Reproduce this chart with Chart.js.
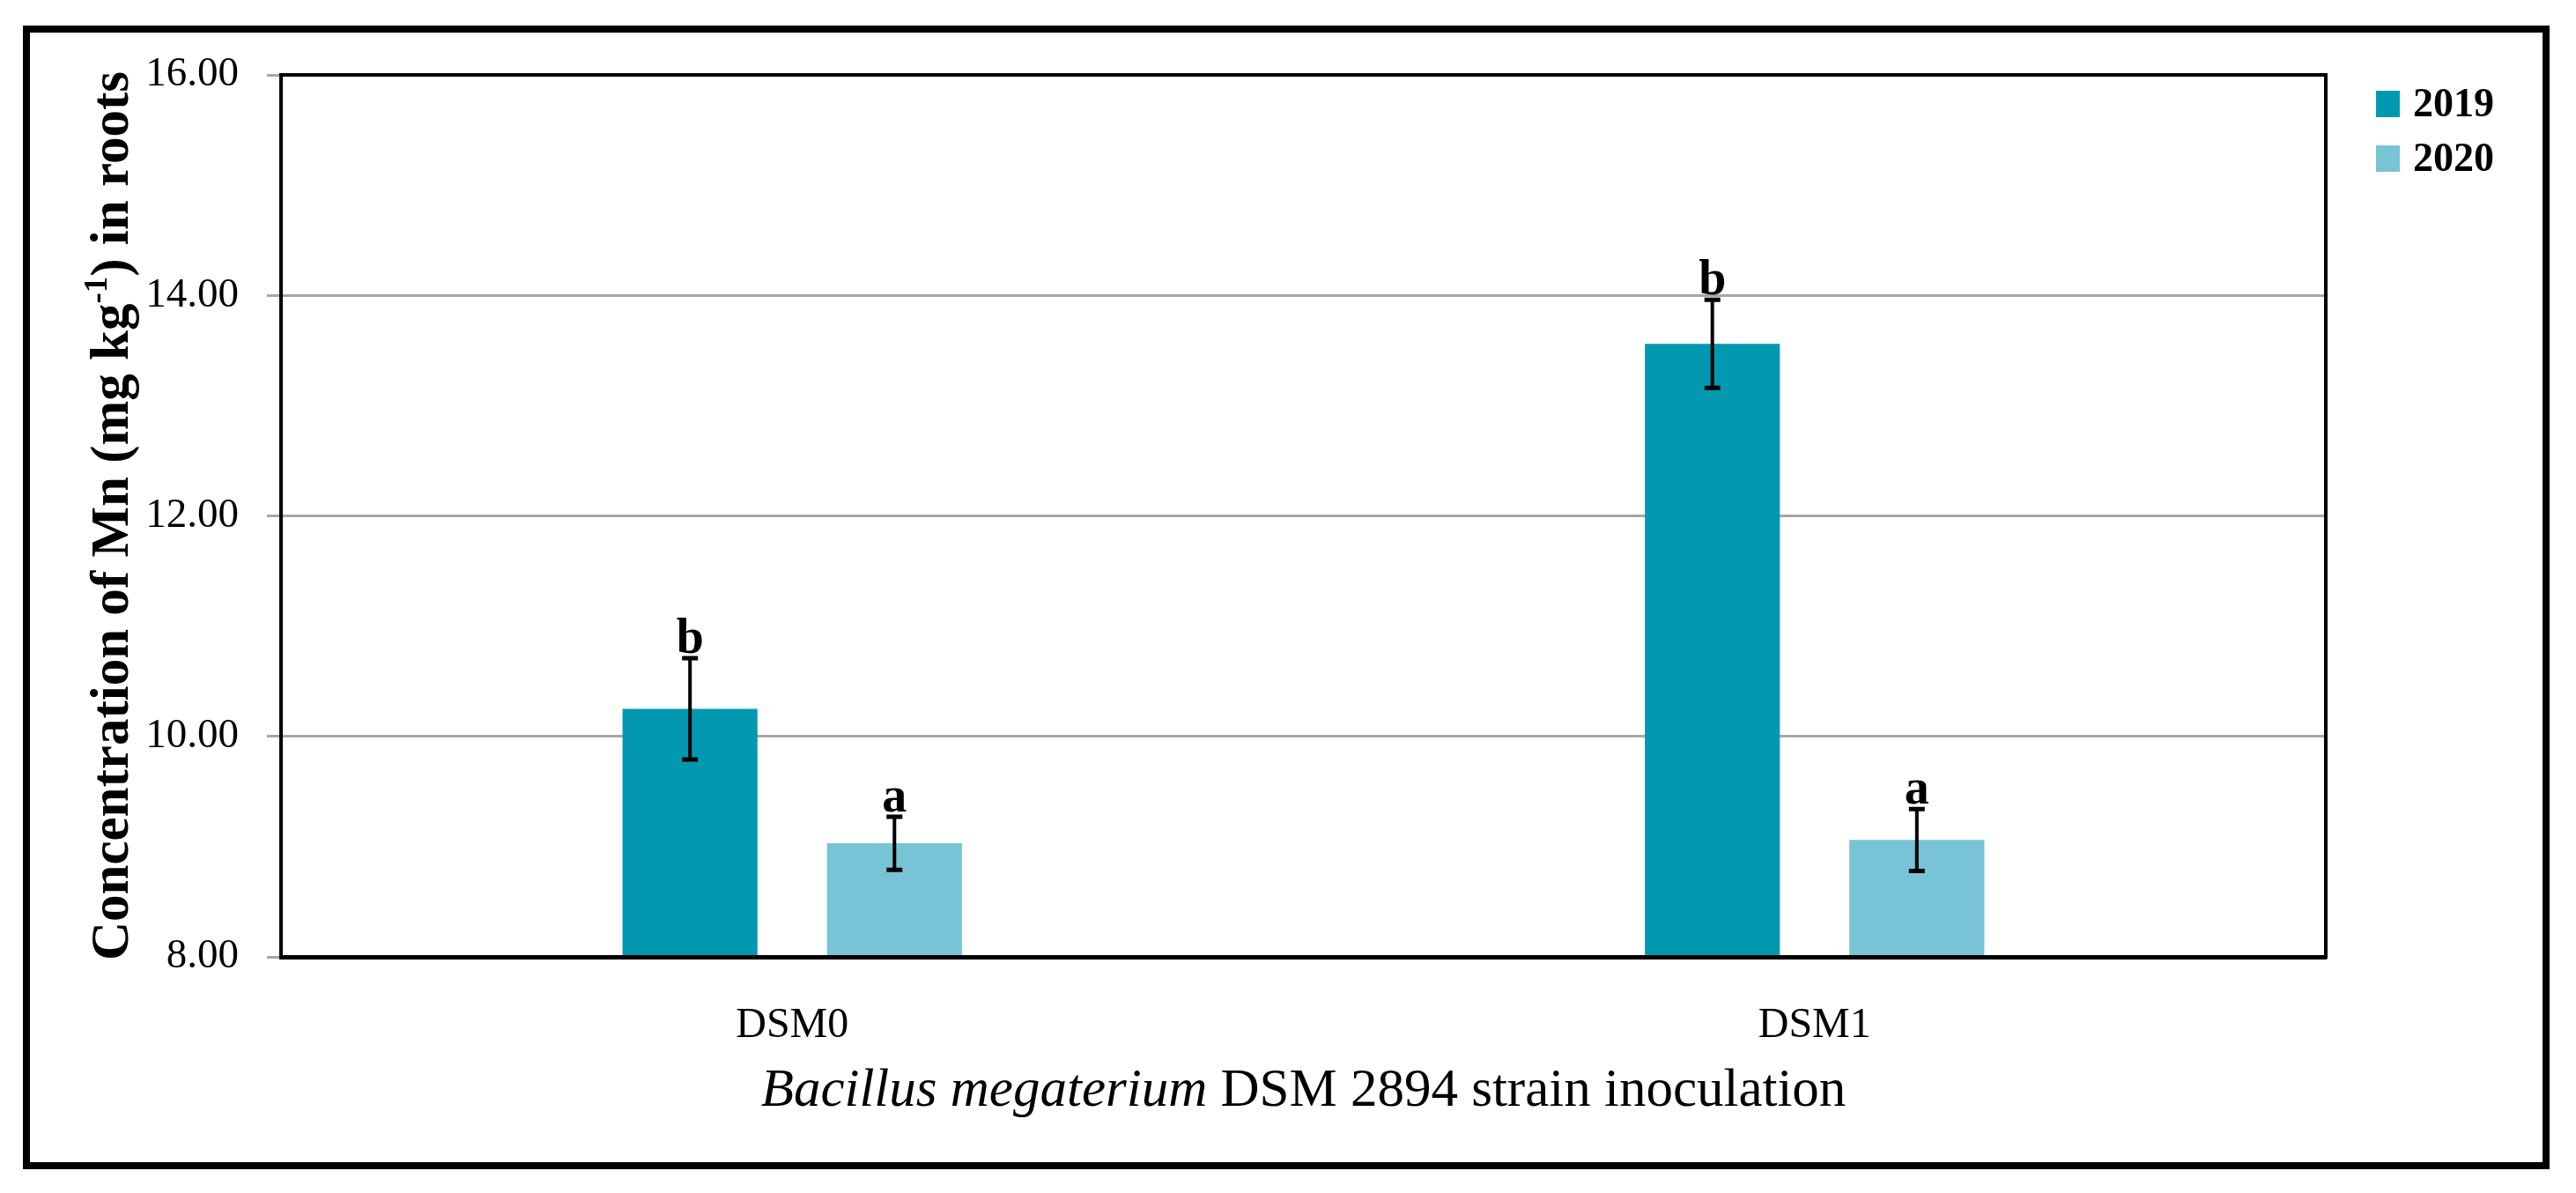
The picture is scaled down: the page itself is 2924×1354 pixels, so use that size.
<!DOCTYPE html>
<html>
<head>
<meta charset="utf-8">
<script src="https://cdn.jsdelivr.net/npm/chart.js@4"></script>
<style>
body { margin: 0; background: #fff; }
canvas { display: block; }
</style>
</head>
<body>
<canvas id="mnRoots" width="2924" height="1354"></canvas>
<script>
// data
const categories = ["DSM0", "DSM1"];
const years = ["2019", "2020"];
const mn2019 = [10.25, 13.56];
const mn2020 = [9.03, 9.06];
const err2019 = [0.46, 0.40];
const err2020 = [0.24, 0.28];
const letters2019 = ["b", "b"];
const letters2020 = ["a", "a"];
const yTicks = [8, 10, 12, 14, 16];

const colors = ["#0299B0", "#78C3D6"];
const serif = "'Liberation Serif', 'Times New Roman', serif";

const errorBars = {
    id: "errorBars",
    afterDatasetsDraw(chart) {
        const ctx = chart.ctx;
        const y = chart.scales.y;
        const errs = [err2019, err2020];
        const lets = [letters2019, letters2020];
        chart.data.datasets.forEach((ds, i) => {
            const meta = chart.getDatasetMeta(i);
            meta.data.forEach((bar, j) => {
                const v = ds.data[j];
                const top = y.getPixelForValue(v + errs[i][j]);
                const bot = y.getPixelForValue(v - errs[i][j]);
                ctx.save();
                ctx.strokeStyle = "#000";
                ctx.lineWidth = 4;
                ctx.beginPath();
                ctx.moveTo(bar.x, top);
                ctx.lineTo(bar.x, bot);
                ctx.stroke();
                ctx.lineWidth = 5;
                ctx.beginPath();
                ctx.moveTo(bar.x - 9, top);
                ctx.lineTo(bar.x + 9, top);
                ctx.moveTo(bar.x - 9, bot);
                ctx.lineTo(bar.x + 9, bot);
                ctx.stroke();
                ctx.fillStyle = "#000";
                ctx.font = "bold 56px " + serif;
                ctx.textAlign = "center";
                ctx.textBaseline = "alphabetic";
                ctx.fillText(lets[i][j], bar.x, top - 6);
                ctx.restore();
            });
        });
    }
};

const decorations = {
    id: "decorations",
    afterDraw(chart) {
        const ctx = chart.ctx;
        const a = chart.chartArea;
        ctx.save();
        // plot frame
        ctx.strokeStyle = "#000";
        ctx.lineWidth = 4;
        ctx.strokeRect(a.left, a.top, a.right - a.left, a.bottom - a.top);
        // outer figure border
        ctx.lineWidth = 8;
        ctx.strokeRect(30, 33, 2860, 1290);

        // legend
        ctx.font = "bold 46px " + serif;
        ctx.textBaseline = "middle";
        ctx.textAlign = "left";
        chart.data.datasets.forEach((ds, i) => {
            const cy = 118 + i * 62;
            ctx.fillStyle = ds.backgroundColor;
            ctx.fillRect(2697, cy - 15, 27, 30);
            ctx.fillStyle = "#000";
            ctx.fillText(ds.label, 2739, cy + 2);
        });

        // x axis title, partly italic
        const t1 = "Bacillus megaterium";
        const t2 = " DSM 2894 strain inoculation";
        ctx.textBaseline = "alphabetic";
        ctx.font = "italic 61px " + serif;
        const w1 = ctx.measureText(t1).width;
        ctx.font = "61px " + serif;
        const w2 = ctx.measureText(t2).width;
        const cx = (a.left + a.right) / 2;
        let x0 = cx - (w1 + w2) / 2;
        ctx.fillStyle = "#000";
        ctx.font = "italic 61px " + serif;
        ctx.fillText(t1, x0, 1255);
        ctx.font = "61px " + serif;
        ctx.fillText(t2, x0 + w1, 1255);

        // y axis title with superscript
        const p1 = "Concentration of Mn (mg kg";
        const sup = "-1";
        const p2 = ") in roots";
        ctx.font = "bold 61px " + serif;
        const wp1 = ctx.measureText(p1).width;
        const wp2 = ctx.measureText(p2).width;
        ctx.font = "bold 37px " + serif;
        const ws = ctx.measureText(sup).width;
        const total = wp1 + ws + wp2;
        ctx.translate(145, (a.top + a.bottom) / 2);
        ctx.rotate(-Math.PI / 2);
        let xs = -total / 2;
        ctx.font = "bold 61px " + serif;
        ctx.fillText(p1, xs, 0);
        ctx.font = "bold 37px " + serif;
        ctx.fillText(sup, xs + wp1, -24);
        ctx.font = "bold 61px " + serif;
        ctx.fillText(p2, xs + wp1 + ws, 0);
        ctx.restore();
    }
};

new Chart(document.getElementById("mnRoots"), {
    type: "bar",
    data: {
        labels: categories,
        datasets: [
            {
                label: years[0],
                data: mn2019,
                backgroundColor: colors[0],
                barPercentage: 0.66,
                categoryPercentage: 0.4
            },
            {
                label: years[1],
                data: mn2020,
                backgroundColor: colors[1],
                barPercentage: 0.66,
                categoryPercentage: 0.4
            }
        ]
    },
    options: {
        responsive: false,
        devicePixelRatio: 1,
        animation: false,
        layout: {
            padding: { left: 0, right: 284, top: 85, bottom: 0 }
        },
        plugins: {
            legend: { display: false },
            tooltip: { enabled: false }
        },
        scales: {
            x: {
                grid: { display: false },
                border: { color: "#000", width: 5 },
                ticks: {
                    color: "#000",
                    padding: 42,
                    font: { family: serif, size: 48 }
                },
                afterFit(scale) { scale.height = 268; }
            },
            y: {
                min: 8,
                max: 16,
                afterBuildTicks(scale) {
                    scale.ticks = yTicks.map(v => ({ value: v }));
                },
                grid: {
                    color: "#a6a6a6",
                    lineWidth: 3,
                    tickLength: 16
                },
                border: { color: "#000", width: 4 },
                ticks: {
                    color: "#000",
                    padding: 32,
                    font: { family: serif, size: 47 },
                    callback: v => Number(v).toFixed(2)
                },
                afterFit(scale) { scale.width = 319; }
            }
        }
    },
    plugins: [errorBars, decorations]
});
</script>
</body>
</html>
